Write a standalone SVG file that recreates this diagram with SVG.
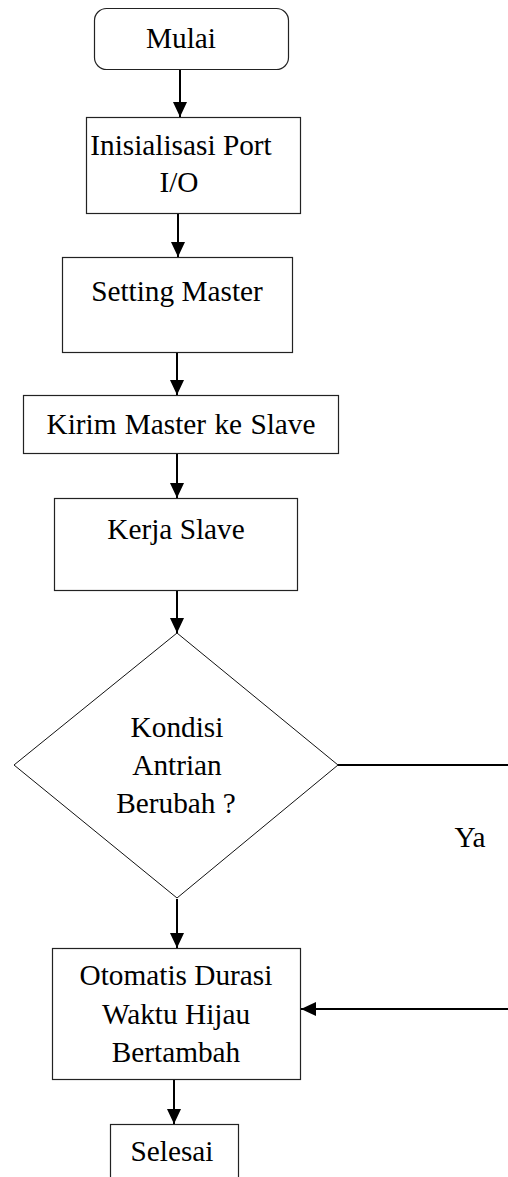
<svg xmlns="http://www.w3.org/2000/svg" width="508" height="1177" viewBox="0 0 508 1177">
<style>
.box{fill:#fff;stroke:#222;stroke-width:1.2}
.dia{fill:#fff;stroke:#111;stroke-width:1}
.t{font-family:"Liberation Serif","Times New Roman",serif;font-size:29.3px;fill:#000;text-anchor:middle}
.c{fill:none;stroke:#000;stroke-width:2}
</style>
<defs>
<marker id="ah" markerWidth="15" markerHeight="14" refX="15" refY="7" orient="auto" markerUnits="userSpaceOnUse">
<path d="M0,0 L15,7 L0,14 Z" fill="#000"/>
</marker>
</defs>
<rect width="508" height="1177" fill="#fff"/>
<g id="mulai">
<rect class="box" x="94.5" y="8.5" width="194" height="61" rx="12" ry="12"/>
<text class="t" x="181" y="48">Mulai</text>
</g>
<g id="inisialisasi">
<rect class="box" x="86.5" y="117.5" width="214" height="96"/>
<text class="t" x="181" y="155">Inisialisasi Port</text>
<text class="t" x="179" y="192">I/O</text>
</g>
<g id="setting">
<rect class="box" x="62.5" y="257.5" width="230" height="95"/>
<text class="t" x="177" y="301">Setting Master</text>
</g>
<g id="kirim">
<rect class="box" x="23.5" y="395.5" width="315" height="58"/>
<text class="t" x="181" y="434" word-spacing="1">Kirim Master ke Slave</text>
</g>
<g id="kerja">
<rect class="box" x="54.5" y="498.5" width="243" height="92"/>
<text class="t" x="176" y="539">Kerja Slave</text>
</g>
<g id="kondisi">
<polygon class="dia" points="177,633 338,765 177,898 14,765"/>
<text class="t" x="177" y="737">Kondisi</text>
<text class="t" x="177" y="775">Antrian</text>
<text class="t" x="176" y="813">Berubah ?</text>
</g>
<g id="ya">
<text class="t" x="470" y="847">Ya</text>
</g>
<g id="otomatis">
<rect class="box" x="52.5" y="948.5" width="248" height="131"/>
<text class="t" x="176" y="985">Otomatis Durasi</text>
<text class="t" x="176" y="1024">Waktu Hijau</text>
<text class="t" x="176" y="1062">Bertambah</text>
</g>
<g id="selesai">
<rect class="box" x="110.5" y="1124.5" width="128" height="60"/>
<text class="t" x="172" y="1161">Selesai</text>
</g>
<g id="connectors">
<line class="c" x1="180" y1="70" x2="180" y2="117" marker-end="url(#ah)"/>
<line class="c" x1="178" y1="214" x2="178" y2="257" marker-end="url(#ah)"/>
<line class="c" x1="177" y1="353" x2="177" y2="395" marker-end="url(#ah)"/>
<line class="c" x1="177" y1="454" x2="177" y2="498" marker-end="url(#ah)"/>
<line class="c" x1="177" y1="591" x2="177" y2="633" marker-end="url(#ah)"/>
<line class="c" x1="177" y1="899" x2="177" y2="948" marker-end="url(#ah)"/>
<line class="c" x1="174" y1="1080" x2="174" y2="1124" marker-end="url(#ah)"/>
<line class="c" x1="338" y1="765" x2="508" y2="765"/>
<line class="c" x1="508" y1="1009" x2="301" y2="1009" marker-end="url(#ah)"/>
</g>
</svg>
